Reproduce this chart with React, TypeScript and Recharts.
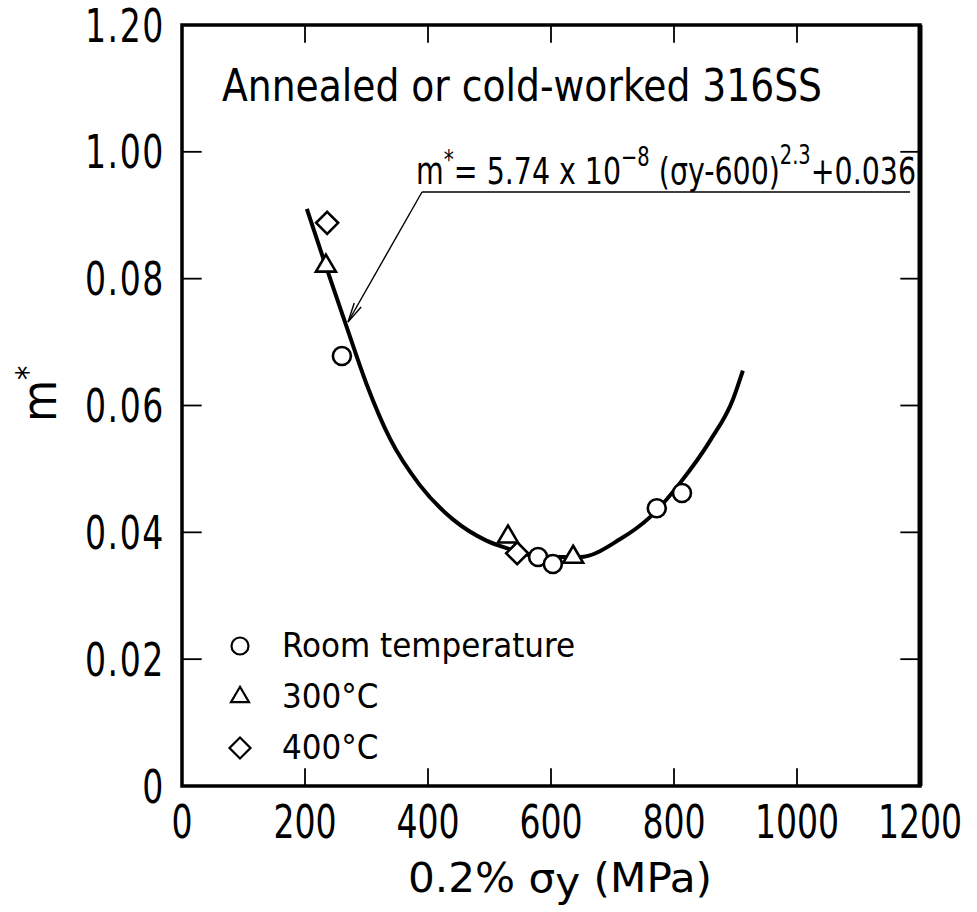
import {
  ComposedChart,
  Customized,
  Legend,
  Line,
  ReferenceArea,
  ReferenceLine,
  Scatter,
  XAxis,
  YAxis,
} from 'recharts';

// Fitted curve
const curveSigma = [203, 229, 267, 300, 338, 387, 441, 495, 528, 580, 647, 712, 761, 810, 859, 896, 912];
const curveM = [0.091, 0.0834, 0.0726, 0.0634, 0.0548, 0.0474, 0.042, 0.0387, 0.0375, 0.0362, 0.0361, 0.0389, 0.0424, 0.0478, 0.0545, 0.061, 0.0655];

// Measured points
const roomSigma = [260, 579, 603, 772, 813];
const roomM = [0.0678, 0.0361, 0.035, 0.0438, 0.0462];
const t300Sigma = [234, 530, 636];
const t300M = [0.082, 0.0393, 0.0361];
const t400Sigma = [236, 545];
const t400M = [0.0888, 0.0367];

const seriesNames = ['Room temperature', '300°C', '400°C'];

const xTicks = [0, 200, 400, 600, 800, 1000, 1200];
const yTicks = [0, 0.02, 0.04, 0.06, 0.08, 0.1, 0.12];
const yTickLabels = ['0', '0.02', '0.04', '0.06', '0.08', '1.00', '1.20'];
const innerX = [200, 400, 600, 800, 1000];
const innerY = [0.02, 0.04, 0.06, 0.08, 0.1];

const zip = (xs: number[], ys: number[]) => xs.map((sigma, i) => ({ sigma, m: ys[i] }));
const curveData = zip(curveSigma, curveM);
const roomData = zip(roomSigma, roomM);
const t300Data = zip(t300Sigma, t300M);
const t400Data = zip(t400Sigma, t400M);

const FONT = "'DejaVu Sans', sans-serif";
const INK = '#000';

type Pt = { cx?: number; cy?: number };

function Ring({ cx = 0, cy = 0, r = 9, sw = 2.6 }: Pt & { r?: number; sw?: number }) {
  return <circle cx={cx} cy={cy} r={r} fill="#fff" stroke={INK} strokeWidth={sw} />;
}

function Tri({ cx = 0, cy = 0, s = 10, sw = 2.6 }: Pt & { s?: number; sw?: number }) {
  const h = s * 1.7;
  const pts = `${cx},${cy - (h * 2) / 3} ${cx + s},${cy + h / 3} ${cx - s},${cy + h / 3}`;
  return <polygon points={pts} fill="#fff" stroke={INK} strokeWidth={sw} />;
}

function Diamond({ cx = 0, cy = 0, s = 11, sw = 2.6 }: Pt & { s?: number; sw?: number }) {
  const pts = `${cx},${cy - s} ${cx + s},${cy} ${cx},${cy + s} ${cx - s},${cy}`;
  return <polygon points={pts} fill="#fff" stroke={INK} strokeWidth={sw} />;
}

const legendIcons: Record<string, (cx: number, cy: number) => JSX.Element> = {
  'Room temperature': (cx, cy) => <Ring cx={cx} cy={cy} r={8.5} sw={2.2} />,
  '300°C': (cx, cy) => <Tri cx={cx} cy={cy} s={9} sw={2.2} />,
  '400°C': (cx, cy) => <Diamond cx={cx} cy={cy} s={10.5} sw={2.2} />,
};

function LegendBox({ payload }: { payload?: { value: string }[] }) {
  const rows = seriesNames.filter((n) => (payload ?? []).some((p) => p.value === n));
  return (
    <div style={{ fontFamily: FONT, fontStretch: 'condensed', color: INK }}>
      {rows.map((name) => (
        <div key={name} style={{ display: 'flex', alignItems: 'center', height: 51 }}>
          <svg width={40} height={30} style={{ overflow: 'visible' }}>
            {legendIcons[name](18, 15)}
          </svg>
          <span style={{ fontSize: 34.5, marginLeft: 20, lineHeight: 1 }}>{name}</span>
        </div>
      ))}
    </div>
  );
}

// Tall, narrow tick lettering
function XTick({ x, y, payload }: any) {
  return (
    <text
      transform={`translate(${x},${y}) scale(0.8,1)`}
      textAnchor="middle"
      dy="0.74em"
      fontFamily={FONT}
      fontStretch="condensed"
      fontSize={46}
      fill={INK}
    >
      {payload.value}
    </text>
  );
}

function YTick({ x, y, index }: any) {
  return (
    <text
      transform={`translate(${x},${y}) scale(0.8,1)`}
      textAnchor="end"
      dy="0.36em"
      fontFamily={FONT}
      fontStretch="condensed"
      fontSize={46}
      letterSpacing={2}
      fill={INK}
    >
      {yTickLabels[index]}
    </text>
  );
}

// Title, fitted equation with its leader arrow, axis titles
function Annotations() {
  const tip = { x: 348, y: 322 };
  const tail = { x: 422, y: 192 };
  const a = Math.atan2(tail.y - tip.y, tail.x - tip.x);
  const head = (d: number) => `${tip.x + 20 * Math.cos(a + d)},${tip.y + 20 * Math.sin(a + d)}`;
  return (
    <g fontFamily={FONT} fill={INK} fontStretch="condensed">
      <text x={222} y={101} fontSize={45} textLength={600} lengthAdjust="spacingAndGlyphs">
        Annealed or cold-worked 316SS
      </text>
      <text x={416} y={184} fontSize={38} textLength={500} lengthAdjust="spacingAndGlyphs">
        m<tspan dy={-15} fontSize={27}>*</tspan>
        <tspan dy={15}>{'= 5.74 x 10'}</tspan>
        <tspan dy={-18} fontSize={26}>−8</tspan>
        <tspan dy={18}>{' (σy-600)'}</tspan>
        <tspan dy={-20} fontSize={26}>2.3</tspan>
        <tspan dy={20}>+0.036</tspan>
      </text>
      <line x1={tail.x} y1={tail.y} x2={910} y2={tail.y} stroke={INK} strokeWidth={1.6} />
      <line x1={tail.x} y1={tail.y} x2={tip.x} y2={tip.y} stroke={INK} strokeWidth={1.4} />
      <polyline points={`${head(0.2)} ${tip.x},${tip.y} ${head(-0.2)}`} fill="none" stroke={INK} strokeWidth={1.4} />
      <text transform="translate(56, 422) rotate(-90)" fontSize={48}>
        m<tspan dy={-18} fontSize={32}>*</tspan>
      </text>
      <text x={408} y={892} fontSize={41} textLength={304} lengthAdjust="spacingAndGlyphs">
        {'0.2%  σ'}
        <tspan dy={4}>y</tspan>
        <tspan dy={-4}>{'   (MPa)'}</tspan>
      </text>
    </g>
  );
}

export default function App() {
  return (
    <div style={{ position: 'absolute', left: 0, top: 0, width: 977, height: 912, background: '#fff' }}>
      <ComposedChart width={977} height={912} margin={{ top: 25, right: 57, bottom: 0, left: 0 }}>
        <XAxis
          type="number"
          dataKey="sigma"
          domain={[0, 1200]}
          ticks={xTicks}
          interval={0}
          axisLine={false}
          tickLine={false}
          tickSize={0}
          tickMargin={18}
          height={126}
          tick={<XTick />}
        />
        <YAxis
          type="number"
          dataKey="m"
          domain={[0, 0.12]}
          ticks={yTicks}
          interval={0}
          axisLine={false}
          tickLine={false}
          tickSize={0}
          tickMargin={17}
          width={182}
          tick={<YTick />}
        />

        <ReferenceArea x1={0} x2={1200} y1={0} y2={0.12} fill="none" stroke={INK} strokeWidth={3.5} ifOverflow="visible" />
        <ReferenceLine x={1200} stroke={INK} strokeWidth={5} />
        {innerX.map((v) => (
          <ReferenceLine key={`b${v}`} segment={[{ x: v, y: 0 }, { x: v, y: 0.0028 }]} stroke={INK} strokeWidth={1.8} />
        ))}
        {innerX.map((v) => (
          <ReferenceLine key={`t${v}`} segment={[{ x: v, y: 0.12 }, { x: v, y: 0.1172 }]} stroke={INK} strokeWidth={1.8} />
        ))}
        {innerY.map((v) => (
          <ReferenceLine key={`l${v}`} segment={[{ x: 0, y: v }, { x: 32, y: v }]} stroke={INK} strokeWidth={1.8} />
        ))}
        {innerY.map((v) => (
          <ReferenceLine key={`r${v}`} segment={[{ x: 1200, y: v }, { x: 1168, y: v }]} stroke={INK} strokeWidth={1.8} />
        ))}

        <Line
          data={curveData}
          dataKey="m"
          type="monotone"
          stroke={INK}
          strokeWidth={4}
          dot={false}
          activeDot={false}
          legendType="none"
          isAnimationActive={false}
        />
        <Scatter name={seriesNames[0]} data={roomData} dataKey="m" fill="#fff" shape={(p: Pt) => <Ring cx={p.cx} cy={p.cy} />} isAnimationActive={false} />
        <Scatter name={seriesNames[1]} data={t300Data} dataKey="m" fill="#fff" shape={(p: Pt) => <Tri cx={p.cx} cy={p.cy} />} isAnimationActive={false} />
        <Scatter name={seriesNames[2]} data={t400Data} dataKey="m" fill="#fff" shape={(p: Pt) => <Diamond cx={p.cx} cy={p.cy} />} isAnimationActive={false} />

        <Legend
          layout="vertical"
          align="center"
          verticalAlign="middle"
          content={(props: any) => <LegendBox payload={props.payload} />}
          wrapperStyle={{ left: 222, top: 620, width: 'auto', height: 'auto' }}
        />
        <Customized component={<Annotations />} />
      </ComposedChart>
    </div>
  );
}
